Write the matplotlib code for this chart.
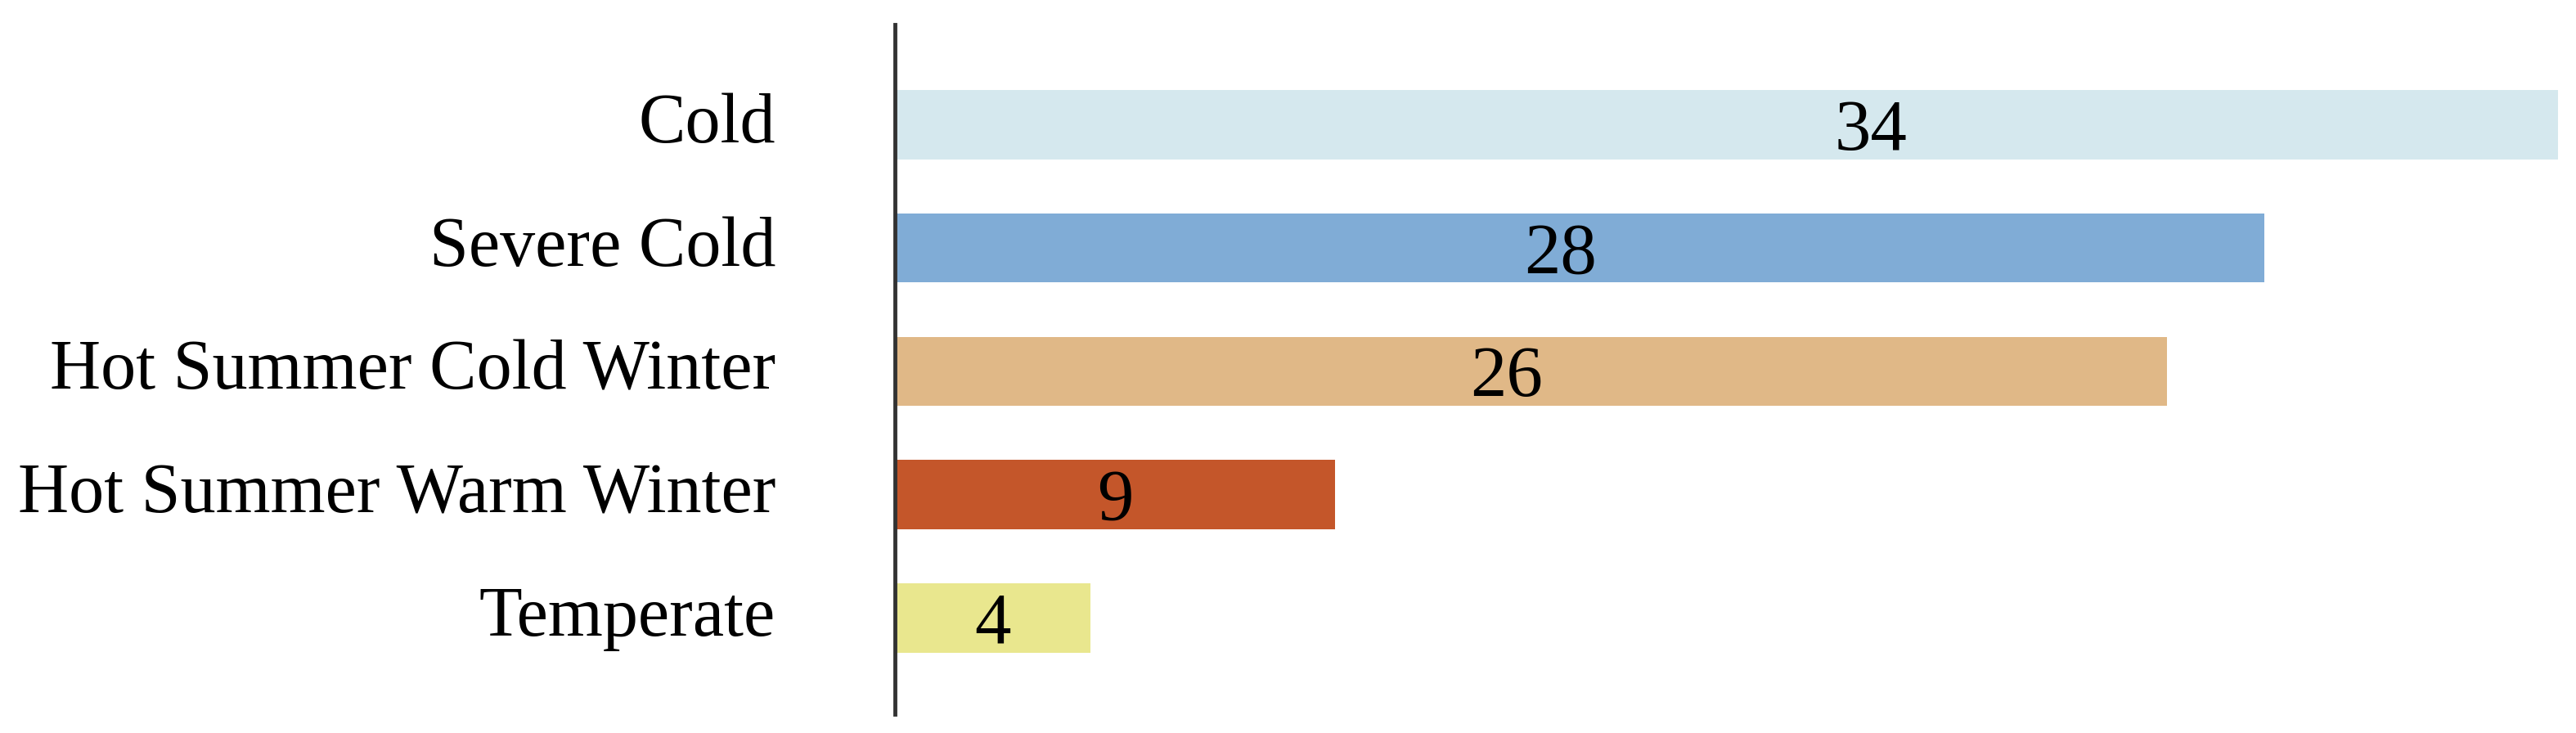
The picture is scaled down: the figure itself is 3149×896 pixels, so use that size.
import matplotlib
matplotlib.use("Agg")
import matplotlib.pyplot as plt
from matplotlib.transforms import ScaledTranslation

categories = ["Cold", "Severe Cold", "Hot Summer Cold Winter", "Hot Summer Warm Winter", "Temperate"]
values = [34, 28, 26, 9, 4]
colors = ["#d5e8ee", "#80acd6", "#e0b887", "#c4562a", "#e9e78e"]
label_offsets = [2.95, -0.4, -0.5, 0.0, 0.0]

plt.rcParams['font.family'] = ['Liberation Serif', 'DejaVu Serif']

fig = plt.figure(figsize=(31.49, 8.96), dpi=100)
ax = fig.add_axes([0.3474, 0.0257, 0.6526, 0.9408])

ypos = list(range(len(categories)))
ax.barh(ypos, values, height=0.56, color=colors, edgecolor='none')

fs_val = 64
for y, v, off in zip(ypos, values, label_offsets):
    ax.annotate(str(v), xy=(v / 2 + off, y), xytext=(0, -0.338 * fs_val),
                textcoords='offset points', ha='center', va='baseline',
                fontsize=fs_val, color='black')

ax.set_yticks(ypos)
ax.set_yticklabels(categories, fontsize=62)
ax.tick_params(axis='y', length=0, pad=105)
shift = ScaledTranslation(0, 6 / 72, fig.dpi_scale_trans)
for lab in ax.get_yticklabels():
    lab.set_transform(lab.get_transform() + shift)
ax.set_xticks([])
ax.set_xlim(0, 34.37)
ax.set_ylim(4.78, -0.813)

for s in ['top', 'right', 'bottom']:
    ax.spines[s].set_visible(False)
ax.spines['left'].set_linewidth(3.5)
ax.spines['left'].set_color('#333333')

fig.savefig("out.png", dpi=100)
